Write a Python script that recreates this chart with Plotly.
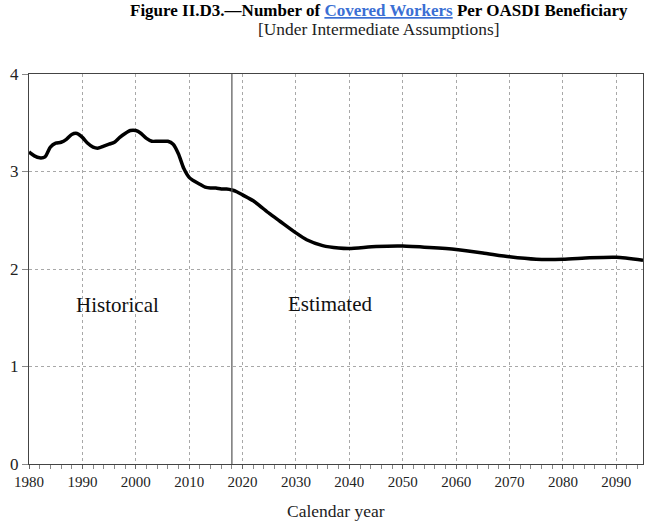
import plotly.graph_objects as go

years = [1980, 1981, 1982, 1983, 1984, 1985, 1986, 1987, 1988, 1989,
         1990, 1991, 1992, 1993, 1994, 1995, 1996, 1997, 1998, 1999,
         2000, 2001, 2002, 2003, 2004, 2005, 2006, 2007, 2008, 2009,
         2010, 2011, 2012, 2013, 2014, 2015, 2016, 2017, 2018, 2019,
         2020, 2022, 2025, 2027, 2030, 2032, 2035, 2038, 2040, 2045,
         2050, 2055, 2060, 2065, 2070, 2075, 2080, 2085, 2090, 2095]
workers_per_beneficiary = [
    3.20, 3.16, 3.14, 3.15, 3.25, 3.29, 3.30, 3.33, 3.38, 3.39,
    3.35, 3.29, 3.25, 3.24, 3.26, 3.28, 3.30, 3.35, 3.39, 3.42,
    3.42, 3.39, 3.34, 3.31, 3.31, 3.31, 3.31, 3.28, 3.18, 3.03,
    2.94, 2.90, 2.87, 2.84, 2.83, 2.83, 2.82, 2.82, 2.81, 2.79,
    2.76, 2.70, 2.57, 2.49, 2.37, 2.30, 2.24, 2.215, 2.21, 2.23,
    2.235, 2.22, 2.20, 2.165, 2.125, 2.10, 2.10, 2.115, 2.12, 2.09]

x_ticks = [1980, 1990, 2000, 2010, 2020, 2030, 2040, 2050, 2060, 2070, 2080, 2090]
y_ticks = [0, 1, 2, 3, 4]
divider_year = 2018
labels = ["Historical", "Estimated"]
label_x = [1996.5, 2036.4]
label_y = [1.63, 1.64]

FONT = "Liberation Serif, Times New Roman, Times, serif"

fig = go.Figure()
fig.add_trace(go.Scatter(
    x=years, y=workers_per_beneficiary, mode="lines",
    line=dict(color="black", width=3.5, shape="spline", smoothing=0.6),
    showlegend=False, hoverinfo="skip"))

fig.add_shape(type="line", xref="x", yref="y", x0=divider_year, x1=divider_year,
              y0=0, y1=4, line=dict(color="#555555", width=1.2))

for t, xx, yy in zip(labels, label_x, label_y):
    fig.add_annotation(x=xx, y=yy, xref="x", yref="y", text=t, showarrow=False,
                       font=dict(family=FONT, size=21, color="#111111"))

fig.add_annotation(xref="paper", yref="paper", x=0.57, y=1.0, yshift=64,
                   text="<b>Figure II.D3.—Number of <span style='color:#3b6fd4'><u>Covered Workers</u></span> Per OASDI Beneficiary</b>",
                   showarrow=False, xanchor="center", yanchor="middle",
                   font=dict(family=FONT, size=17, color="black"))
fig.add_annotation(xref="paper", yref="paper", x=0.57, y=1.0, yshift=45,
                   text="[Under Intermediate Assumptions]",
                   showarrow=False, xanchor="center", yanchor="middle",
                   font=dict(family=FONT, size=17.4, color="#222222"))
fig.add_annotation(xref="paper", yref="paper", x=0.5, y=0.0, yshift=-47,
                   text="Calendar year", showarrow=False,
                   xanchor="center", yanchor="middle",
                   font=dict(family=FONT, size=17.5, color="#222222"))

fig.update_xaxes(
    range=[1980, 2095], tickvals=x_ticks, ticktext=[str(v) for v in x_ticks],
    showgrid=True, gridcolor="#a8a8a8", griddash="dot", gridwidth=1,
    showline=True, linecolor="#444444", linewidth=1.2, mirror=True,
    ticks="outside", ticklen=4, tickcolor="#666666",
    minor=dict(dtick=2, tick0=1980, ticks="outside", ticklen=4, tickcolor="#888888", showgrid=False),
    zeroline=False, automargin=False,
    tickfont=dict(family=FONT, size=15, color="#222222"))

fig.update_yaxes(
    range=[0, 4], tickvals=y_ticks, ticktext=[str(v) for v in y_ticks],
    showgrid=True, gridcolor="#a8a8a8", griddash="dot", gridwidth=1,
    showline=True, linecolor="#444444", linewidth=1.2, mirror=True,
    ticks="outside", ticklen=6, tickcolor="#888888",
    zeroline=False, automargin=False,
    tickfont=dict(family=FONT, size=17, color="#222222"))

fig.update_layout(
    width=650, height=522,
    margin=dict(l=29, r=7, t=74, b=58),
    plot_bgcolor="white", paper_bgcolor="white",
    font=dict(family=FONT), hovermode=False)

fig.write_html("out.html", config={"displayModeBar": False},
               post_script="document.body.style.margin='0';")
